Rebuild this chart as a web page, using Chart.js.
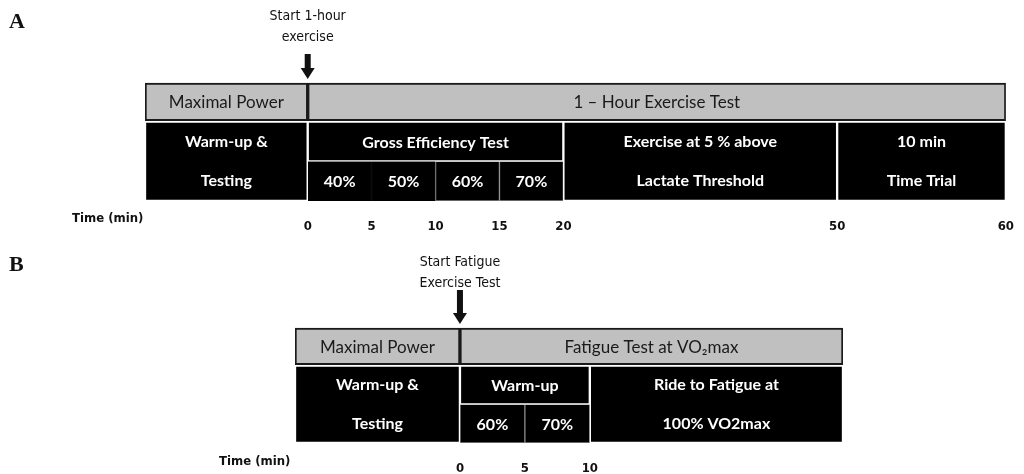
<!DOCTYPE html>
<html>
<head>
<meta charset="utf-8">
<script src="https://cdn.jsdelivr.net/npm/chart.js@4.4.1/dist/chart.umd.min.js"></script>
<style>
  body { margin: 0; background: #fff; width: 1024px; height: 474px; overflow: hidden; }
  .panel { position: absolute; left: 0; width: 1024px; height: 237px; }
  #panelA { top: 0; }
  #panelB { top: 237px; }
</style>
</head>
<body>
<div class="panel" id="panelA"><canvas id="chartA" width="1024" height="237"></canvas></div>
<div class="panel" id="panelB"><canvas id="chartB" width="1024" height="237"></canvas></div>
<script>
// Panel A - 1-hour exercise protocol (times in minutes)
const aGrayLabels = ['Maximal Power', '1 \u2013 Hour Exercise Test'];
const aGrayTimes = [[-13.5, 0], [0, 60]];
const aFullLabels = [['Warm-up &', 'Testing'], ['Exercise at 5 % above', 'Lactate Threshold'], ['10 min', 'Time Trial']];
const aFullTimes = [[-13.5, 0], [20, 50], [50, 60]];
const aTopLabels = ['Gross Efficiency Test'];
const aTopTimes = [[0, 20]];
const aStageLabels = ['40%', '50%', '60%', '70%'];
const aStageTimes = [[0, 5], [5, 10], [10, 15], [15, 20]];
const aTicks = [0, 5, 10, 15, 20, 50, 60];

// Panel B - fatigue test protocol
const bGrayLabels = ['Maximal Power', 'Fatigue Test at VO\u2082max'];
const bGrayTimes = [[-12.5, 0], [0, 29]];
const bFullLabels = [['Warm-up &', 'Testing'], ['Ride to Fatigue at', '100% VO2max']];
const bFullTimes = [[-12.5, 0], [10, 29]];
const bTopLabels = ['Warm-up'];
const bTopTimes = [[0, 10]];
const bStageLabels = ['60%', '70%'];
const bStageTimes = [[0, 5], [5, 10]];
const bTicks = [0, 5, 10];

// x axis in the figure is not evenly spaced, so map time through knots
class PiecewiseScale extends Chart.LinearScale {
    static id = 'piecewise';
    static defaults = Chart.LinearScale.defaults;
    buildTicks() {
        return this.options.tickValues.map(v => ({ value: v }));
    }
    toFrac(v) {
        const t = this.options.knots, f = this.options.fracs;
        for (let i = 0; i < t.length - 1; i++) {
            if (v <= t[i + 1] || i === t.length - 2) {
                return f[i] + (v - t[i]) / (t[i + 1] - t[i]) * (f[i + 1] - f[i]);
            }
        }
    }
    getPixelForValue(v) {
        return this.left + this.toFrac(v) * this.width;
    }
    getValueForPixel(p) {
        const t = this.options.knots, f = this.options.fracs;
        const fr = (p - this.left) / this.width;
        for (let i = 0; i < f.length - 1; i++) {
            if (fr <= f[i + 1] || i === f.length - 2) {
                return t[i] + (fr - f[i]) / (f[i + 1] - f[i]) * (t[i + 1] - t[i]);
            }
        }
    }
}
Chart.register(PiecewiseScale);

const boxLabels = {
    id: 'boxLabels',
    afterDatasetsDraw(chart) {
        const ctx = chart.ctx;
        const half = (chart.scales.y.getPixelForValue(1) - chart.scales.y.getPixelForValue(0)) / 2;
        chart.data.datasets.forEach((ds, i) => {
            const meta = chart.getDatasetMeta(i);
            ctx.save();
            ctx.fillStyle = ds.textColor;
            ctx.font = ds.textFont;
            ctx.textAlign = 'center';
            ctx.textBaseline = 'middle';
            meta.data.forEach((el, j) => {
                const cx = (el.x + el.base) / 2;
                const txt = ds.texts[j];
                if (Array.isArray(txt)) {
                    ctx.fillText(txt[0], cx, el.y - half);
                    ctx.fillText(txt[1], cx, el.y + half);
                } else {
                    ctx.fillText(txt, cx, el.y + 1);
                }
            });
            ctx.restore();
        });
    }
};

const notes = {
    id: 'notes',
    afterDraw(chart) {
        const o = chart.options.plugins.notes;
        const ctx = chart.ctx;
        const x0 = chart.scales.x.getPixelForValue(0);
        ctx.save();
        ctx.fillStyle = '#111';
        ctx.font = 'bold 22px "Liberation Serif"';
        ctx.textBaseline = 'middle';
        ctx.fillText(o.letter, 9, o.letterY);
        ctx.font = '14px "DejaVu Sans Condensed", "Liberation Sans Narrow", sans-serif';
        ctx.textAlign = 'center';
        ctx.fillText(o.caption[0], x0, o.captionY);
        ctx.fillText(o.caption[1], x0, o.captionY + 21);
        // arrow
        ctx.fillRect(x0 - 3, o.arrowTop, 6, o.arrowBottom - o.arrowTop - 9);
        ctx.beginPath();
        ctx.moveTo(x0 - 7, o.arrowBottom - 11);
        ctx.lineTo(x0 + 7, o.arrowBottom - 11);
        ctx.lineTo(x0, o.arrowBottom);
        ctx.closePath();
        ctx.fill();
        ctx.textAlign = 'left';
        ctx.font = 'bold 13px "DejaVu Sans Condensed", "Liberation Sans Narrow", sans-serif';
        ctx.fillText('Time (min)', o.timeX, o.timeY);
        ctx.restore();
    }
};

function buildChart(id, d, lay) {
    const toData = (times, y) => times.map(t => ({ x: t, y: y }));
    const blackFont = 'bold 16px Lato, "Open Sans", sans-serif';
    const datasets = [
        { data: toData(d.grayTimes, 0.5), texts: d.grayLabels, backgroundColor: '#c0c0c0',
          borderColor: '#1a1a1a', borderWidth: 2, barThickness: lay.row - 2,
          textColor: '#1a1a1a', textFont: '17px Lato, "Open Sans", sans-serif' },
        { data: toData(d.fullTimes, 2), texts: d.fullLabels, backgroundColor: '#000',
          borderColor: '#fff', borderWidth: 1.5, barThickness: lay.row * 2,
          textColor: '#fff', textFont: blackFont },
        { data: toData(d.topTimes, 1.5), texts: d.topLabels, backgroundColor: '#000',
          borderColor: '#fff', borderWidth: 1.5, barThickness: lay.row,
          textColor: '#fff', textFont: blackFont },
        { data: toData(d.stageTimes, 2.5), texts: d.stageLabels, backgroundColor: '#000',
          borderColor: d.stageBorders, borderWidth: 1, barThickness: lay.row,
          textColor: '#fff', textFont: blackFont }
    ];
    return new Chart(document.getElementById(id), {
        type: 'bar',
        data: { datasets },
        options: {
            responsive: false,
            animation: false,
            indexAxis: 'y',
            layout: { padding: { left: lay.left, right: lay.right, top: lay.top, bottom: 0 } },
            plugins: {
                legend: { display: false },
                tooltip: { enabled: false },
                notes: lay.notes
            },
            datasets: { bar: { grouped: false, borderSkipped: false } },
            scales: {
                x: {
                    type: 'piecewise',
                    min: d.knots[0], max: d.knots[d.knots.length - 1],
                    knots: d.knots, fracs: d.fracs, tickValues: d.ticks,
                    grid: { display: false }, border: { display: false },
                    ticks: { color: '#111', padding: 10, font: { family: '"DejaVu Sans Condensed", sans-serif', size: 13, weight: 'bold' } },
                    afterFit: s => { s.height = lay.axisH; }
                },
                y: { type: 'linear', min: 0, max: 3, reverse: true, offset: false, display: false }
            }
        },
        plugins: [boxLabels, notes]
    });
}

buildChart('chartA', {
    grayTimes: aGrayTimes, grayLabels: aGrayLabels,
    fullTimes: aFullTimes, fullLabels: aFullLabels,
    topTimes: aTopTimes, topLabels: aTopLabels,
    stageTimes: aStageTimes, stageLabels: aStageLabels,
    stageBorders: ['#000', '#000', '#888', '#888'],
    ticks: aTicks,
    knots: [-13.5, 0, 20, 50, 60], fracs: [0, 0.189, 0.486, 0.804, 1]
}, {
    left: 145, right: 13, top: 82, axisH: 36, row: 39.7,
    notes: { letter: 'A', letterY: 22, caption: ['Start 1-hour', 'exercise'], captionY: 16,
             arrowTop: 54, arrowBottom: 79, timeX: 72, timeY: 219 }
});

buildChart('chartB', {
    grayTimes: bGrayTimes, grayLabels: bGrayLabels,
    fullTimes: bFullTimes, fullLabels: bFullLabels,
    topTimes: bTopTimes, topLabels: bTopLabels,
    stageTimes: bStageTimes, stageLabels: bStageLabels,
    stageBorders: ['#888', '#888'],
    ticks: bTicks,
    knots: [-12.5, 0, 10, 29], fracs: [0, 0.301, 0.538, 1]
}, {
    left: 295, right: 181, top: 90, axisH: 31, row: 38.7,
    notes: { letter: 'B', letterY: 28, caption: ['Start Fatigue', 'Exercise Test'], captionY: 25,
             arrowTop: 53, arrowBottom: 87, timeX: 219, timeY: 225 }
});
</script>
</body>
</html>
